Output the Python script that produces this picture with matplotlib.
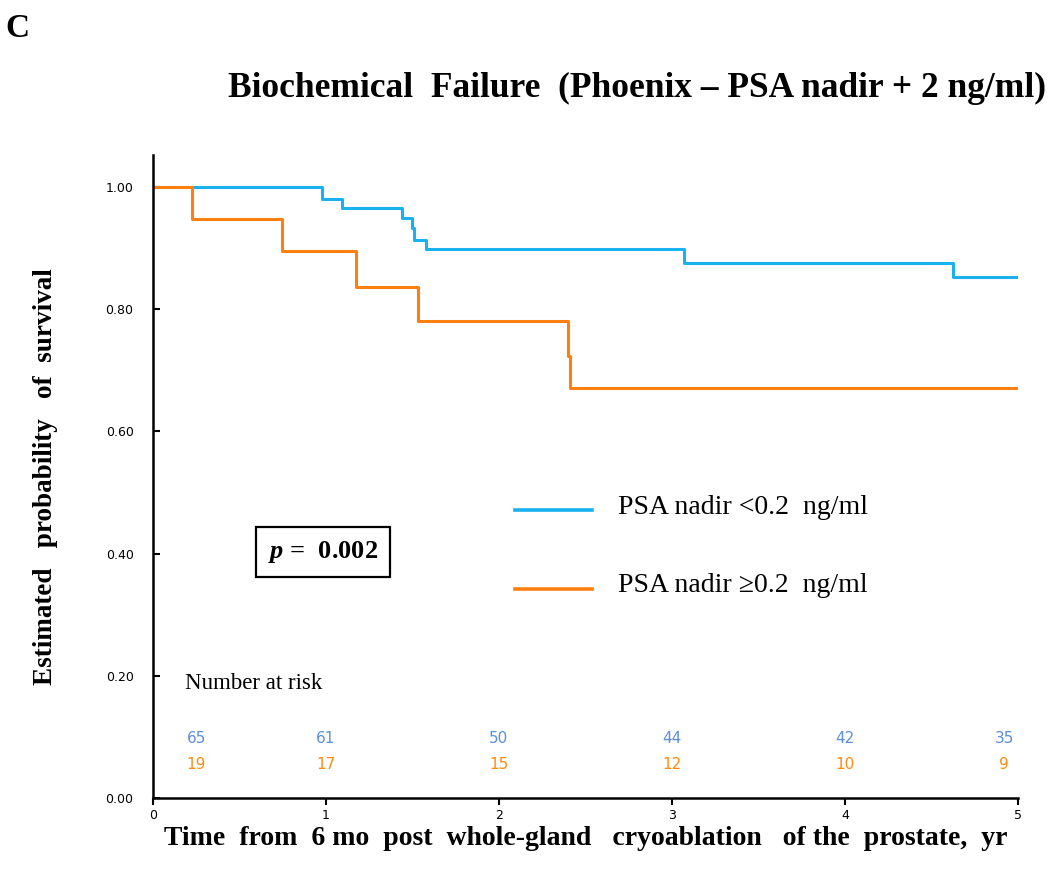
import matplotlib
matplotlib.use("Agg")
import matplotlib.pyplot as plt

# =====================================================
# DATA
# =====================================================

blue_times = [0, 0.975, 1.094, 1.441, 1.495, 1.507, 1.576, 3.069, 4.626, 5.0]
blue_surv = [1.0, 0.980, 0.965, 0.950, 0.933, 0.913, 0.898, 0.875, 0.852, 0.852]

orange_times = [0, 0.225, 0.747, 1.173, 1.534, 2.400, 2.412, 5.0]
orange_surv = [1.0, 0.947, 0.895, 0.837, 0.781, 0.723, 0.671, 0.671]

risk_times = [0, 1, 2, 3, 4, 5]
risk_blue = [65, 61, 50, 44, 42, 35]
risk_orange = [19, 17, 15, 12, 10, 9]

labels = ["PSA nadir <0.2  ng/ml", "PSA nadir \u22650.2  ng/ml"]
p_text = " =  0.002"

BLUE = "#19b2ee"
ORANGE = "#ff7f10"
RISK_BLUE = "#5a8fdc"
RISK_ORANGE = "#ff8a10"
SERIF = ["Liberation Serif", "DejaVu Serif"]

plt.rcParams["mathtext.fontset"] = "custom"
plt.rcParams["mathtext.it"] = "Liberation Serif:italic:bold"

# =====================================================
# FIGURE
# =====================================================

fig = plt.figure(figsize=(10.5, 8.72), dpi=100)
ax = fig.add_axes([0.1457, 0.0849, 0.9695 - 0.1457, 0.822 - 0.0849])

ax.step(blue_times, blue_surv, where="post", color=BLUE, lw=2.2)
ax.step(orange_times, orange_surv, where="post", color=ORANGE, lw=2.2)

ax.set_xlim(0, 5)
ax.set_ylim(0, 1.052)
ax.spines["top"].set_visible(False)
ax.spines["right"].set_visible(False)
ax.spines["left"].set_linewidth(1.8)
ax.spines["bottom"].set_linewidth(1.8)

ax.set_xticks(range(6))
ax.set_yticks([0, 0.2, 0.4, 0.6, 0.8, 1.0])
ax.set_yticklabels(["0.00", "0.20", "0.40", "0.60", "0.80", "1.00"])
ax.tick_params(axis="y", direction="in", length=5, width=1.5, labelsize=9, pad=14)
ax.tick_params(axis="x", direction="out", length=5, width=1.5, labelsize=9, pad=3)

ax.set_xlabel("Time  from  6 mo  post  whole-gland   cryoablation   of the  prostate,  yr",
              family=SERIF, fontsize=20, fontweight="bold", labelpad=3)
ax.set_ylabel("Estimated   probability   of  survival",
              family=SERIF, fontsize=19.5, fontweight="bold", labelpad=34)

# =====================================================
# LEGEND (drawn by hand like the original)
# =====================================================

ax.plot([2.09, 2.54], [0.471, 0.471], color=BLUE, lw=2.6)
ax.plot([2.09, 2.54], [0.342, 0.342], color=ORANGE, lw=2.6)
ax.text(2.69, 0.476, labels[0], family=SERIF, fontsize=20, va="center")
ax.text(2.69, 0.347, labels[1], family=SERIF, fontsize=20, va="center")

# p-value box
ax.text(0.983, 0.403, r"$\mathit{p}$" + p_text, family=SERIF, fontsize=19,
        fontweight="bold", ha="center", va="center",
        bbox=dict(boxstyle="square,pad=0.45", fc="white", ec="black", lw=1.6))

# =====================================================
# NUMBER AT RISK
# =====================================================

ax.text(0.185, 0.187, "Number at risk", family=SERIF, fontsize=16.5, va="center")
for t, nb, no in zip(risk_times, risk_blue, risk_orange):
    xpos = min(max(t, 0.25), 4.92)
    ax.text(xpos, 0.097, str(nb), color=RISK_BLUE, fontsize=11, ha="center", va="center")
    ax.text(xpos, 0.054, str(no), color=RISK_ORANGE, fontsize=11, ha="center", va="center")

# =====================================================
# TITLES
# =====================================================

fig.text(0.005, 0.985, "C", family=SERIF, fontsize=24, fontweight="bold", va="top")
fig.text(0.996, 0.898, "Biochemical  Failure  (Phoenix \u2013 PSA nadir + 2 ng/ml)",
         family=SERIF, fontsize=25.5, fontweight="bold", ha="right", va="center")

fig.savefig("out.png", dpi=100)
